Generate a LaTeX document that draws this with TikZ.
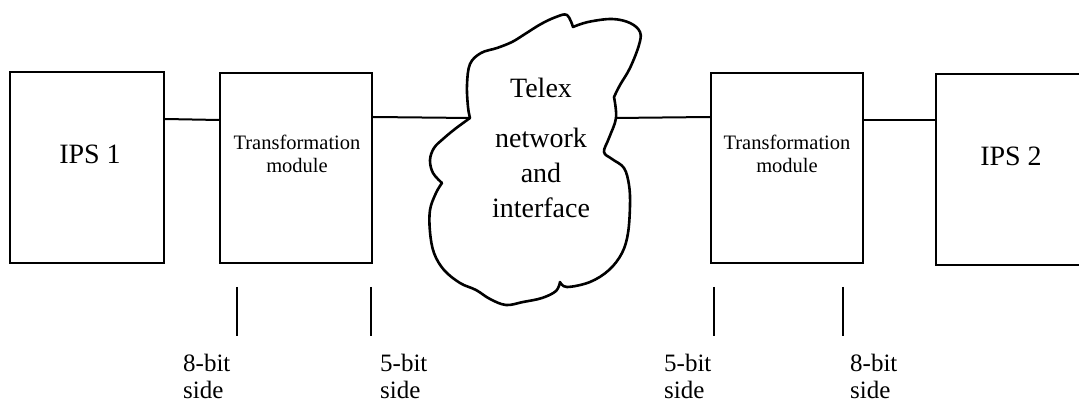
\documentclass[tikz,border=0pt]{standalone}
\usepackage{fontspec}
\setmainfont{Liberation Serif}
\begin{document}
\begin{tikzpicture}[x=1pt,y=-1pt,
  box/.style={draw, line width=2pt, inner sep=0pt, minimum width=#1, minimum height=190pt},
  wire/.style={line width=2pt},
  tick/.style={line width=2pt},
  cloudline/.style={line width=2.6pt, line join=round},
  boxtext/.style={inner sep=0pt, font=\fontsize{28}{32}\selectfont},
  modtext/.style={inner sep=0pt, align=center, font=\fontsize{20.5}{23}\selectfont},
  cloudtext/.style={inner sep=0pt, align=center, font=\fontsize{28}{35}\selectfont},
  sidetext/.style={inner sep=0pt, align=left, anchor=north west, font=\fontsize{25}{27}\selectfont}]
\useasboundingbox (0,0) rectangle (1079,403);

% boxes
\node[box=154pt, minimum height=191pt] (ips1) at (87,167.5) {};
\node[box=152pt] (tm1) at (296,168) {};
\node[box=152pt] (tm2) at (787,168) {};
\node[box=154pt, minimum height=191pt] (ips2) at (1013,169.5) {};

% texts
\node[boxtext, anchor=base] (t1) at (90,164) {IPS 1};
\node[boxtext, anchor=base] (t2) at (1011,166) {IPS 2};
\node[modtext, anchor=north] (m1) at (297,135) {Transformation\\module};
\node[modtext, anchor=north] (m2) at (787,135) {Transformation\\module};

% cloud
\coordinate (cw) at (470,118);
\coordinate (ce) at (615,118);
\draw[cloudline]
  plot[smooth, tension=0.6] coordinates {(470,118) (468,107) (467,85) (470,64) (481,53) (497,48) (512,42) (525,34) (541,24) (556,17) (567,15) (573,27)}
  -- plot[smooth, tension=0.6] coordinates {(573,27) (588,22) (612,19) (630,23) (640,32) (639,45) (630,68) (620,85) (614,97)}
  -- plot[smooth, tension=0.6] coordinates {(614,97) (616,118) (609,138) (604,152) (612,159) (624,168) (629,185) (630,205) (628,233) (622,253) (609,270) (590,282) (567,287) (560,282)}
  -- plot[smooth, tension=0.6] coordinates {(560,282) (556,291) (542,298) (523,302) (506,305) (490,299) (476,290) (460,283) (444,270) (434,253) (430,232) (430,210) (436,193) (442,183)}
  -- plot[smooth, tension=0.6] coordinates {(442,183) (433,173) (430,160) (434,148) (443,139) (455,129) (470,118)}
  -- cycle;
\node[cloudtext, anchor=north] (ct) at (541,78) {Telex\\[15pt]network\\and\\interface};

% connectors
\draw[wire] ([yshift=-48pt]ips1.north east) -- ([yshift=-48pt]tm1.north west);
\draw[wire] ([yshift=-45pt]tm1.north east) -- (cw);
\draw[wire] (ce) -- ([yshift=-45pt]tm2.north west);
\draw[wire] ([yshift=-48pt]tm2.north east) -- ([yshift=-47pt]ips2.north west);

% ticks
\coordinate (k1t) at (237,287); \coordinate (k1b) at (237,336);
\coordinate (k2t) at (371,287); \coordinate (k2b) at (371,336);
\coordinate (k3t) at (714,287); \coordinate (k3b) at (714,336);
\coordinate (k4t) at (843,287); \coordinate (k4b) at (843,336);
\draw[tick] (k1t) -- (k1b);
\draw[tick] (k2t) -- (k2b);
\draw[tick] (k3t) -- (k3b);
\draw[tick] (k4t) -- (k4b);

% side labels
\node[sidetext] (s1) at (183,354) {8-bit\\side};
\node[sidetext] (s2) at (380,354) {5-bit\\side};
\node[sidetext] (s3) at (664,354) {5-bit\\side};
\node[sidetext] (s4) at (850,354) {8-bit\\side};
\end{tikzpicture}
\end{document}
